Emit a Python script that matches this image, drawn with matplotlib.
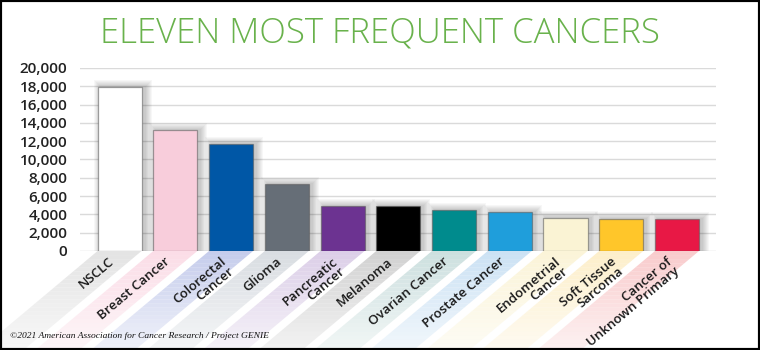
import numpy as np
import matplotlib
matplotlib.use('Agg')
import matplotlib.pyplot as plt
from matplotlib.patches import Polygon, Rectangle
from matplotlib.transforms import IdentityTransform

# data
categories = ['NSCLC', 'Breast Cancer', 'Colorectal\nCancer', 'Glioma', 'Pancreatic\nCancer',
              'Melanoma', 'Ovarian Cancer', 'Prostate Cancer', 'Endometrial\nCancer',
              'Soft Tissue\nSarcoma', 'Cancer of\nUnknown Primary']
counts = [17880, 13250, 11700, 7370, 4890, 4880, 4520, 4300, 3610, 3540, 3530]
y_ticks = [0, 2000, 4000, 6000, 8000, 10000, 12000, 14000, 16000, 18000, 20000]
y_tick_labels = ['0', '2,000', '4,000', '6,000', '8,000', '10,000', '12,000',
                 '14,000', '16,000', '18,000', '20,000']

bar_colors = ['#ffffff', '#f8cddb', '#0057a6', '#666e77', '#6c3391', '#000000',
              '#008b8d', '#1f9edb', '#faf3d4', '#ffc62a', '#e81845']
stripe_colors = ['#e4e4e4', '#fbdde7', '#c6cdec', '#d9dde2', '#dccfe8', '#d2d2d2',
                 '#cde0df', '#cce2f4', '#fbf4d8', '#fdefcb', '#f9cccd']

fig = plt.figure(figsize=(7.6, 3.5), dpi=100)
fig.patch.set_facecolor('white')
ax = fig.add_axes([80 / 760, 99 / 350, 636 / 760, 183 / 350])
ax.patch.set_visible(False)

x = np.arange(len(categories))
ax.set_xlim(-0.71, 10.7)
ax.set_ylim(0, 20000)

ax.set_yticks(y_ticks)
ax.set_yticklabels(y_tick_labels, fontfamily='Open Sans', fontweight=600,
                   fontsize=11, color='#222222')
ax.set_xticks([])
ax.tick_params(length=0, pad=9)
ax.yaxis.grid(True, color='#dadada', linewidth=1)
ax.set_axisbelow(True)
for s in ax.spines.values():
    s.set_visible(False)

width = 0.79
bars = ax.bar(x, counts, width=width, color=bar_colors,
              edgecolor=(0.35, 0.35, 0.35, 0.55), linewidth=0.9, zorder=3)

# pixel geometry for stripes and shadows
to_px = ax.transData.transform
y0 = to_px((0, 0))[1]
y_bot = 2
h = y0 - y_bot
shift = h / np.tan(np.radians(40))
n_slices = 24

for i in range(len(categories)):
    xl = to_px((i - width / 2, 0))[0]
    xr = to_px((i + width / 2, 0))[0]
    ytop = to_px((0, counts[i]))[1]
    # diagonal tinted stripe under each bar, fading out
    for k in range(n_slices):
        t0 = k / n_slices
        t1 = (k + 1) / n_slices
        verts = [(xl - t0 * shift, y0 - t0 * h), (xr - t0 * shift, y0 - t0 * h),
                 (xr - t1 * shift, y0 - t1 * h), (xl - t1 * shift, y0 - t1 * h)]
        ax.add_patch(Polygon(verts, closed=True, facecolor=stripe_colors[i],
                             edgecolor='none', alpha=1 - 0.75 * t0,
                             transform=IdentityTransform(), clip_on=False, zorder=1))
    # soft drop shadow
    for s in range(1, 8):
        ax.add_patch(Rectangle((xl + 3 - s, y0), (xr - xl) + 2 * s, (ytop - y0) + s,
                               facecolor='black', edgecolor='none', alpha=0.03,
                               transform=IdentityTransform(), clip_on=False, zorder=2))

for i, cat in enumerate(categories):
    ax.annotate(cat, xy=(i, 0), xytext=(-8, -3), textcoords='offset points',
                rotation=40, rotation_mode='anchor', ha='right', va='top',
                multialignment='right', fontsize=9.5, fontfamily='Open Sans',
                fontweight=600, color='#1a1a1a', linespacing=0.9,
                annotation_clip=False, zorder=5)

fig.text(0.5, 1 - 33 / 350, 'ELEVEN MOST FREQUENT CANCERS', ha='center', va='center',
         fontsize=25, fontfamily='Open Sans', fontweight=300, color='#69b24c')

fig.text(10 / 760, 12 / 350, '©2021 American Association for Cancer Research / Project GENIE',
         fontsize=6.8, fontfamily='Liberation Serif', fontstyle='italic',
         color='#111111', va='baseline')

fig.add_artist(Rectangle((0, 0), 1, 1, transform=fig.transFigure, fill=False,
                         edgecolor='black', linewidth=3))

fig.savefig('out.png', dpi=100)
